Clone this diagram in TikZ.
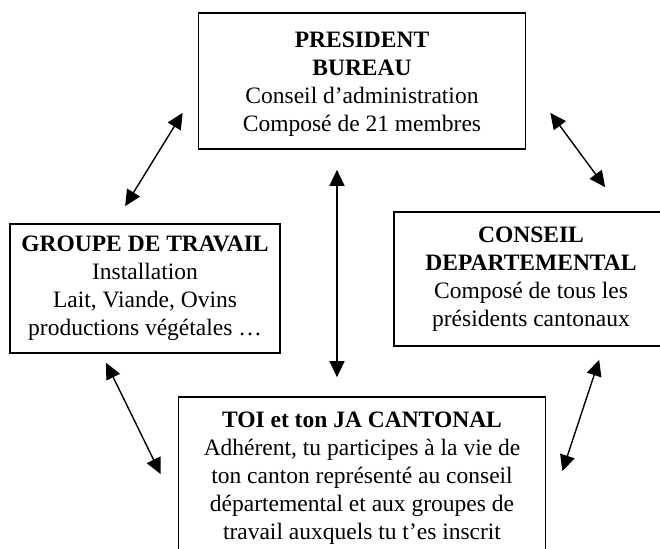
\documentclass[tikz,border=0pt]{standalone}
\usepackage{fontspec}
\setmainfont{Liberation Serif}
\usetikzlibrary{arrows.meta}
\tikzset{
    >={Triangle[length=16pt,width=15pt]}, % big filled arrow heads
    x=1pt, y=1pt, % one unit is one pixel of the page
    every node/.style={font=\fontsize{23.5}{28}\selectfont},
    box/.style={draw, line width=1.7pt, align=center, inner sep=0pt}, % the four frames
    link/.style={<->, line width=1.4pt}, % double arrows between frames
    }

\begin{document}
\begin{tikzpicture}
    \useasboundingbox (0,0) rectangle (660,548);
    \node[box, minimum width=327pt, minimum height=136pt] (bureau) at (362,467) {\rule{0pt}{22pt}\textbf{PRESIDENT}\\ \textbf{BUREAU}\\ Conseil d’administration\\ Composé de 21 membres};
    \node[box, minimum width=270pt, minimum height=129pt] (groupe) at (145,259.5) {\textbf{GROUPE DE TRAVAIL}\\ Installation\\ Lait, Viande, Ovins\\ productions végétales …};
    \node[box, minimum width=274pt, minimum height=134pt] (conseil) at (531,269) {\textbf{CONSEIL}\\ \textbf{DEPARTEMENTAL}\\ Composé de tous les\\ présidents cantonaux};
    \node[box, minimum width=367pt, minimum height=162pt] (canton) at (362,70) {\textbf{TOI et ton JA CANTONAL}\\ Adhérent, tu participes à la vie de\\ ton canton représenté au conseil\\ départemental et aux groupes de\\ travail auxquels tu t’es inscrit};
    \draw[link] ([shift={(-15pt,37pt)}]bureau.south west) -- ([shift={(116pt,17pt)}]groupe.north west);
    \draw[link] ([shift={(24pt,37pt)}]bureau.south east) -- ([shift={(212pt,24pt)}]conseil.north west);
    \draw[link] ([shift={(-25pt,-20pt)}]bureau.south) -- ([shift={(-25pt,19pt)}]canton.north);
    \draw[link] ([shift={(97pt,-9pt)}]groupe.south west) -- ([shift={(-17pt,-78pt)}]canton.north west);
    \draw[link] ([shift={(206pt,-13pt)}]conseil.south west) -- ([shift={(16pt,-75pt)}]canton.north east);
\end{tikzpicture}
\end{document}
